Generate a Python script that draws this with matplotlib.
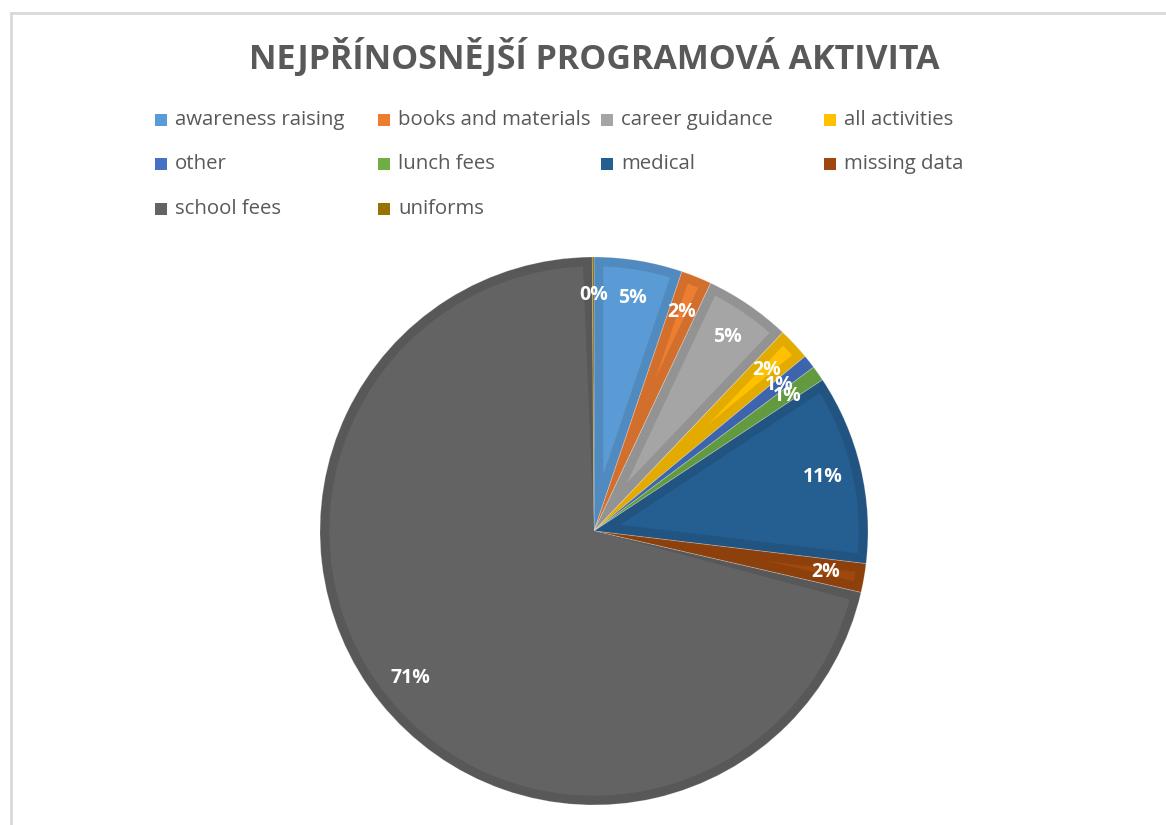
import matplotlib
matplotlib.use("Agg")
import numpy as np
import matplotlib.pyplot as plt
from matplotlib.lines import Line2D
from matplotlib.patches import Rectangle, Polygon
import matplotlib.colors as mcolors

# data (share of respondents, %)
categories = ["awareness raising", "books and materials", "career guidance", "all activities",
              "other", "lunch fees", "medical", "missing data", "school fees", "uniforms"]
shares = [5.2, 1.8, 5.1, 1.9, 0.8, 0.9, 11.2, 1.7, 71.3, 0.1]
colors = ["#5B9BD5", "#ED7D31", "#A5A5A5", "#FFC000", "#4472C4",
          "#70AD47", "#255E91", "#9E480E", "#636363", "#997300"]
title = "NEJPŘÍNOSNĚJŠÍ PROGRAMOVÁ AKTIVITA"

plt.rcParams['font.family'] = ['Open Sans', 'DejaVu Sans']

W, H = 1166, 825
fig = plt.figure(figsize=(W / 100, H / 100), dpi=100)

# light frame on the left and top (chart border)
fig.add_artist(Line2D([10.5 / W, 10.5 / W], [0, 1 - 12.5 / H], color="#d9d9d9", lw=2))
fig.add_artist(Line2D([10.5 / W, 1.0], [1 - 12.5 / H, 1 - 12.5 / H], color="#d9d9d9", lw=2))

# pie centre (594, 531) px, radius 274 px
R = 274
ax = fig.add_axes([(594 - R) / W, (H - 531 - R) / H, 2 * R / W, 2 * R / H])


def darker(c, f=0.89):
    r, g, b = mcolors.to_rgb(c)
    return (r * f, g * f, b * f)


wedges, texts, autotexts = ax.pie(
    shares, colors=[darker(c) for c in colors], startangle=90, counterclock=False,
    autopct='%.0f%%', pctdistance=0.86, radius=1.0,
    wedgeprops=dict(linewidth=0.6, edgecolor="#ffffff40"),
    textprops=dict(color="white", fontsize=14, fontweight="bold"))

# Office-like bevel: lighter inset inside each slice, darker band on its border
d = 0.034
for w, c in zip(wedges, colors):
    t1, t2 = np.radians(w.theta1), np.radians(w.theta2)
    half = (t2 - t1) / 2
    rr = 1 - d
    dt = np.arcsin(d / rr)
    if half <= dt or half < 1e-3:
        continue
    mid = (t1 + t2) / 2
    apex = d / np.sin(half) if half < np.pi / 2 else 0.0
    ang = np.linspace(t1 + dt, t2 - dt, 200)
    pts = [(apex * np.cos(mid), apex * np.sin(mid))]
    pts += list(zip(rr * np.cos(ang), rr * np.sin(ang)))
    ax.add_patch(Polygon(pts, closed=True, facecolor=c, edgecolor="none", zorder=1.5))

for t in autotexts:
    t.set_zorder(5)

ax.set_xlim(-1.0, 1.0)
ax.set_ylim(-1.0, 1.0)
ax.set_aspect("equal")
ax.axis("off")

fig.text(594 / W, 1 - 57 / H, title, ha="center", va="center", fontsize=24.5,
         fontweight="bold", color="#595959")

# legend laid out in rows, 4 per row
col_x = [155, 378, 601, 824]
row_y = [120, 164, 209]
for i, (name, c) in enumerate(zip(categories, colors)):
    x0 = col_x[i % 4]
    y0 = row_y[i // 4]
    fig.add_artist(Rectangle((x0 / W, 1 - (y0 + 6) / H), 12 / W, 12 / H,
                             facecolor=c, edgecolor="none", transform=fig.transFigure))
    fig.text((x0 + 20) / W, 1 - y0 / H, name, ha="left", va="center",
             fontsize=14.7, color="#595959")

fig.savefig("out.png", dpi=100)
